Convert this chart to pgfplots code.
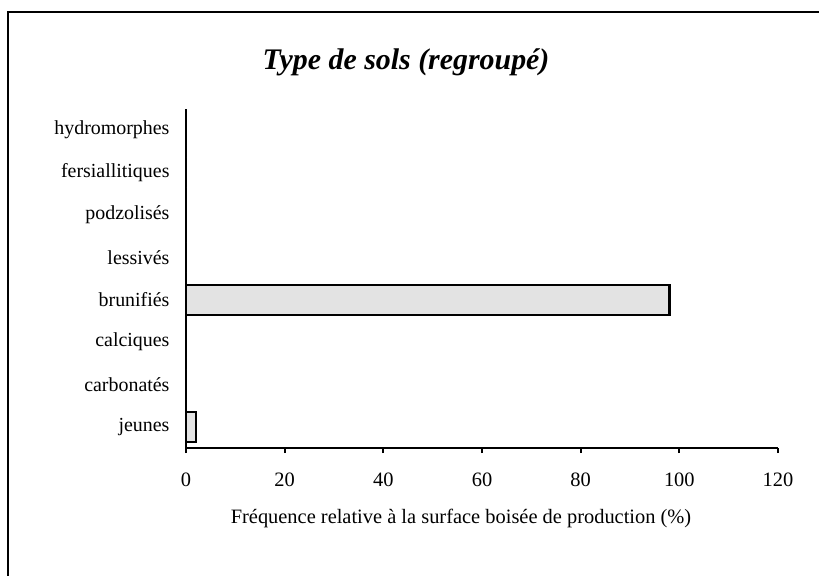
\documentclass[border=0pt]{standalone}
\usepackage{fontspec}
\setmainfont{Liberation Serif}
\usepackage{pgfplots}
\pgfplotsset{compat=1.18}
\begin{document}
\begin{tikzpicture}[x=1bp,y=1bp]
\useasboundingbox (0,0) rectangle (819,-576);
\draw[line width=2bp] (8,-576) -- (8,-12) -- (819,-12);
\node[font=\fontsize{30}{36}\selectfont\bfseries\itshape] at (406,-62) {Type de sols (regroupé)};
\begin{axis}[
  at={(186bp,-448bp)}, anchor=south west,
  scale only axis, width=592bp, height=339bp,
  xbar, bar width=30bp,
  xmin=0, xmax=120, ymin=-0.5, ymax=7.5,
  axis lines*=left,
  axis line style={line width=1.8bp, -},
  xtick={0,20,...,120},
  ytick={0,...,7},
  yticklabels={jeunes,carbonatés,calciques,brunifiés,lessivés,podzolisés,fersiallitiques,hydromorphes},
  major y tick style={draw=none},
  major x tick style={line width=1.8bp, black},
  tick align=outside,
  major tick length=5bp,
  x tick label style={font=\fontsize{20.5}{24}\selectfont, yshift=-16bp},
  y tick label style={font=\fontsize{20}{24}\selectfont, xshift=-8bp},
  /pgf/number format/assume math mode=true,
  xlabel={Fréquence relative à la surface boisée de production (\%)},
  xlabel style={font=\fontsize{20.5}{24}\selectfont, yshift=-16bp, xshift=-21bp},
]
\addplot[draw=black, line width=2.2bp, fill=gray!22] coordinates {(2,0) (0,1) (0,2) (98,3) (0,4) (0,5) (0,6) (0,7)};
\end{axis}
\end{tikzpicture}
\end{document}
